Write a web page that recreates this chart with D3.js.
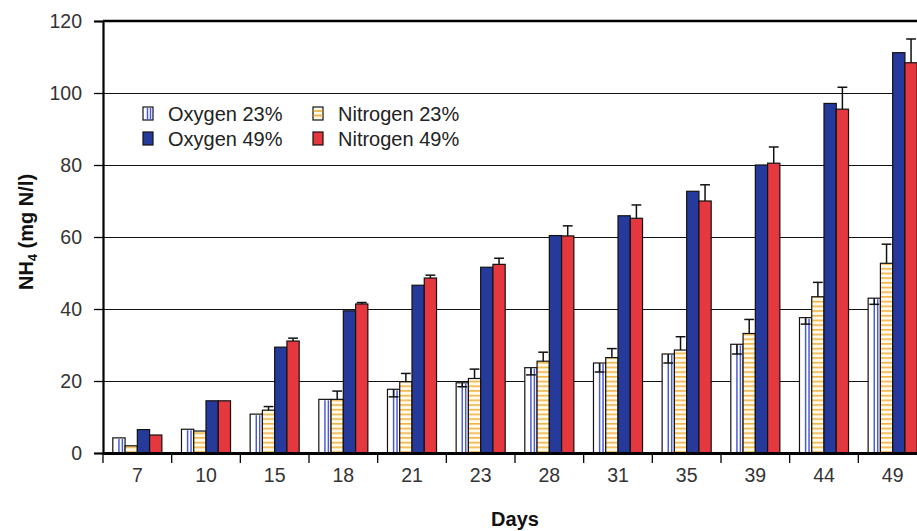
<!DOCTYPE html>
<html><head><meta charset="utf-8">
<script src="https://cdn.jsdelivr.net/npm/d3@7"></script>
<style>body{margin:0;background:#fff}svg{display:block;font-family:"Liberation Sans",Arial,sans-serif}</style>
</head><body><svg id="c" width="917" height="531"></svg>
<script>
const days = ["7","10","15","18","21","23","28","31","35","39","44","49"];
const seriesNames = ["Oxygen 23%","Nitrogen 23%","Oxygen 49%","Nitrogen 49%"];
const oxygen23 = [4.2,6.6,10.8,14.9,17.7,19.5,23.7,25.0,27.5,30.2,37.6,43.0];
const nitrogen23 = [2.0,6.1,11.9,14.9,19.8,20.7,25.5,26.5,28.6,33.2,43.4,52.7];
const oxygen49 = [6.5,14.5,29.4,39.5,46.6,51.6,60.4,65.9,72.7,80.0,97.1,111.2];
const nitrogen49 = [5.0,14.5,31.1,41.4,48.6,52.4,60.3,65.2,70.0,80.5,95.5,108.4];
const oxygen23ErrDown = [0,0,0,0,2.1,1.1,2.0,2.5,2.5,2.7,1.8,1.7];
const nitrogen23ErrUp = [0,0,1.0,2.3,2.3,2.6,2.5,2.5,3.7,3.9,4.0,5.3];
const nitrogen49ErrUp = [0,0,0.8,0.4,0.8,1.7,2.8,3.7,4.5,4.5,6.1,6.6];
const yTicks = [0,20,40,60,80,100,120];

const svg = d3.select("#c");
const L = 103, T = 21, W = 824, H = 432;
const y = d3.scaleLinear().domain([0,120]).range([T+H, T]);
const x0 = d3.scaleBand().domain(days).range([L, L+W]).paddingInner(0).paddingOuter(0);
const x1 = d3.scaleBand().domain(seriesNames).range([0, x0.bandwidth()]).paddingInner(0).paddingOuter(0.8);

const defs = svg.append("defs");
const pat = defs.append("pattern").attr("id","hstripe").attr("patternUnits","userSpaceOnUse")
  .attr("width",8).attr("height",4.7);
pat.append("rect").attr("width",8).attr("height",4.7).attr("fill","#fffbe8");
pat.append("rect").attr("y",0).attr("width",8).attr("height",1.6).attr("fill","#f2b24a");

// gridlines
svg.append("g").selectAll("line").data(yTicks.filter(d=>d>0 && d<120)).join("line")
  .attr("x1",L).attr("x2",L+W).attr("y1",d=>Math.round(y(d))+0.5).attr("y2",d=>Math.round(y(d))+0.5)
  .attr("stroke","#111").attr("stroke-width",1);
// top border
svg.append("line").attr("x1",L).attr("x2",L+W).attr("y1",y(120)).attr("y2",y(120))
  .attr("stroke","#000").attr("stroke-width",2.5);

const series = [
  {name:seriesNames[0], vals:oxygen23, fill:"#ffffff"},
  {name:seriesNames[1], vals:nitrogen23, fill:"url(#hstripe)"},
  {name:seriesNames[2], vals:oxygen49, fill:"#263a9c"},
  {name:seriesNames[3], vals:nitrogen49, fill:"#e4383e"}
];
const bw = x1.bandwidth();
series.forEach((s,si)=>{
  const g = svg.append("g");
  g.selectAll("rect").data(days).join("rect")
    .attr("x",(d)=>x0(d)+x1(s.name)).attr("width",bw)
    .attr("y",(d,i)=>y(s.vals[i])).attr("height",(d,i)=>y(0)-y(s.vals[i]))
    .attr("fill",s.fill).attr("stroke","#111").attr("stroke-width",1.2);
  if(si===0){
    [0.5,0.78].forEach(f=>{
      g.selectAll(null).data(days).join("line")
        .attr("x1",d=>x0(d)+x1(s.name)+bw*f).attr("x2",d=>x0(d)+x1(s.name)+bw*f)
        .attr("y1",(d,i)=>y(s.vals[i])+1).attr("y2",y(0))
        .attr("stroke","#4a5ad6").attr("stroke-width",1.5);
    });
  }
});

// error bars
function errBars(name, vals, errs, dir){
  const g = svg.append("g").attr("stroke","#111").attr("stroke-width",1.5);
  days.forEach((d,i)=>{
    if(!errs[i]) return;
    const cx = x0(d)+x1(name)+bw/2;
    const v1 = y(vals[i]), v2 = y(vals[i] + dir*errs[i]);
    g.append("line").attr("x1",cx).attr("x2",cx).attr("y1",v1).attr("y2",v2);
    g.append("line").attr("x1",cx-bw*0.4).attr("x2",cx+bw*0.4).attr("y1",v2).attr("y2",v2);
  });
}
errBars(seriesNames[0], oxygen23, oxygen23ErrDown, -1);
errBars(seriesNames[1], nitrogen23, nitrogen23ErrUp, 1);
errBars(seriesNames[3], nitrogen49, nitrogen49ErrUp, 1);

// axes
const yAxis = svg.append("g").attr("transform",`translate(${L},0)`)
  .call(d3.axisLeft(y).tickValues(yTicks).tickSize(9).tickPadding(12));
yAxis.select(".domain").attr("stroke","#000").attr("stroke-width",2.2);
yAxis.selectAll(".tick line").attr("stroke","#000").attr("stroke-width",1.3);
yAxis.selectAll("text").attr("font-size",19.5).attr("fill","#333").attr("font-family","Liberation Sans, Arial, sans-serif");

const xAxis = svg.append("g").attr("transform",`translate(0,${T+H})`)
  .call(d3.axisBottom(x0).tickSize(0).tickPadding(15));
xAxis.select(".domain").attr("stroke","#000").attr("stroke-width",3);
xAxis.selectAll("text").attr("font-size",19.5).attr("fill","#333").attr("font-family","Liberation Sans, Arial, sans-serif");
// boundary ticks
svg.append("g").selectAll("line").data(days.concat(["end"])).join("line")
  .attr("x1",(d,i)=>L+i*x0.step()).attr("x2",(d,i)=>L+i*x0.step())
  .attr("y1",T+H).attr("y2",T+H+10).attr("stroke","#000").attr("stroke-width",1.3);

// titles
svg.append("text").attr("transform",`translate(33,232) rotate(-90)`).attr("text-anchor","middle")
  .attr("font-size",20).attr("font-weight","bold").attr("fill","#111")
  .call(t=>{t.append("tspan").text("NH");t.append("tspan").attr("font-size",13).attr("dy",4).text("4");
    t.append("tspan").attr("dy",-4).text(" (mg N/l)");});
svg.append("text").attr("x",515).attr("y",526).attr("text-anchor","middle")
  .attr("font-size",20).attr("font-weight","bold").attr("fill","#111").text("Days");

// legend
const legPos = [[143,114],[313,114],[143,139],[313,139]];
series.forEach((s,i)=>{
  const [lx,ly] = legPos[i];
  const g = svg.append("g");
  g.append("rect").attr("x",lx).attr("y",ly-7).attr("width",10).attr("height",13)
    .attr("fill",s.fill==="url(#hstripe)"?"#fffbe8":s.fill).attr("stroke","#111").attr("stroke-width",1.2);
  if(i===0){[0.45,0.75].forEach(f=>g.append("line").attr("x1",lx+10*f).attr("x2",lx+10*f)
      .attr("y1",ly-6).attr("y2",ly+6).attr("stroke","#4a5ad6").attr("stroke-width",1.5));}
  if(i===1){[-3,1.5].forEach(o=>g.append("line").attr("x1",lx+0.6).attr("x2",lx+9.4)
      .attr("y1",ly+o).attr("y2",ly+o).attr("stroke","#f2b24a").attr("stroke-width",1.8));}
  g.append("text").attr("x",lx+25).attr("y",ly).attr("dy","0.35em").attr("font-size",20)
    .attr("fill","#222").text(s.name);
});
</script></body></html>
